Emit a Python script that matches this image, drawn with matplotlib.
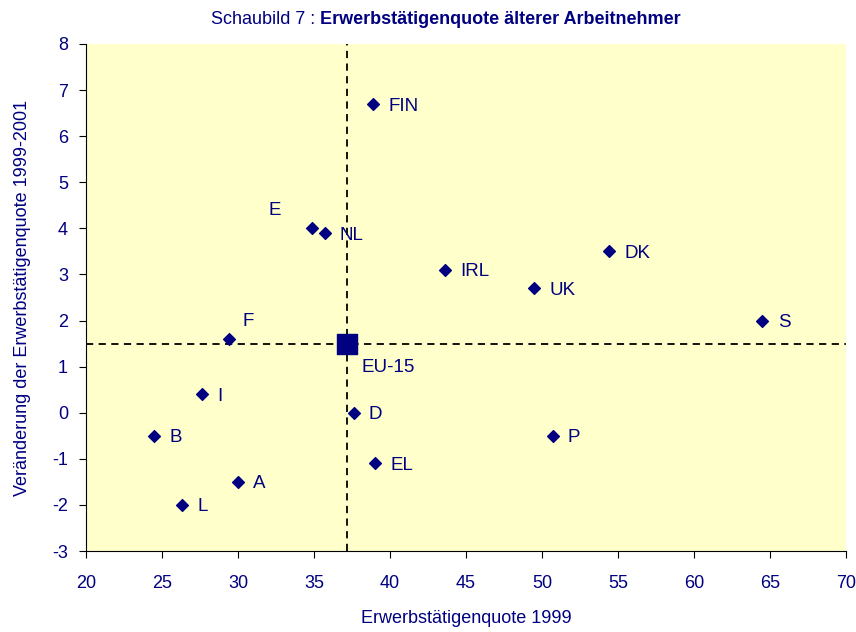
import matplotlib
matplotlib.use("Agg")
import matplotlib.pyplot as plt

countries = ["FIN", "E", "NL", "IRL", "DK", "UK", "S", "F", "I", "D", "B", "P", "EL", "A", "L"]
rate_1999 = [38.9, 34.9, 35.7, 43.6, 54.4, 49.5, 64.5, 29.4, 27.6, 37.6, 24.5, 50.7, 39.0, 30.0, 26.3]
change = [6.7, 4.0, 3.9, 3.1, 3.5, 2.7, 2.0, 1.6, 0.4, 0.0, -0.5, -0.5, -1.1, -1.5, -2.0]
eu_label = "EU-15"
eu_x = 37.2
eu_y = 1.5

navy = "#000080"
plt.rcParams['font.family'] = ['Liberation Sans', 'DejaVu Sans']
plt.rcParams['axes.unicode_minus'] = False

fig = plt.figure(figsize=(8.56, 6.32), dpi=100)
ax = fig.add_axes([86/856, 1-551/632, 760/856, 507/632])
ax.set_facecolor("#FFFFCC")

ax.axvline(eu_x, color="black", linestyle=(0, (4, 3)), linewidth=1.3, zorder=1)
ax.axhline(eu_y, color="black", linestyle=(0, (4, 3)), linewidth=1.3, zorder=1)

ax.scatter(rate_1999, change, marker="D", s=36, color=navy, zorder=3)
ax.scatter([eu_x], [eu_y], marker="s", s=190, color=navy, zorder=3)

offsets = {"E": (-32, 13), "F": (10, 12.5)}
for c, x, y in zip(countries, rate_1999, change):
    dx, dy = offsets.get(c, (11, -1.5))
    ax.annotate(c, (x, y), xytext=(dx, dy), textcoords="offset points",
                va="center", ha="left", color=navy, fontsize=13.5)
ax.annotate(eu_label, (eu_x, eu_y), xytext=(10, -17), textcoords="offset points",
            va="center", ha="left", color=navy, fontsize=13.5)

ax.set_xlim(20, 70)
ax.set_ylim(-3, 8)
ax.set_xticks(range(20, 71, 5))
ax.set_yticks(range(-3, 9))
ax.tick_params(direction="out", length=5, colors="black", labelcolor=navy, labelsize=13)
ax.tick_params(axis="x", pad=12)
ax.tick_params(axis="y", pad=8)
for s in ["top", "right"]:
    ax.spines[s].set_visible(False)
for s in ["left", "bottom"]:
    ax.spines[s].set_color("black")

ax.set_xlabel("Erwerbstätigenquote 1999", color=navy, fontsize=13, labelpad=13)
ax.set_ylabel("Veränderung der Erwerbstätigenquote 1999-2001", color=navy, fontsize=13, labelpad=15)

split = 320/856
fig.text(split, 1-19/632, "Schaubild 7 : ", color=navy, fontsize=13, ha="right", va="center")
fig.text(split, 1-19/632, "Erwerbstätigenquote älterer Arbeitnehmer", color=navy, fontsize=13,
         fontweight="bold", ha="left", va="center")

fig.savefig("out.png", dpi=100)
